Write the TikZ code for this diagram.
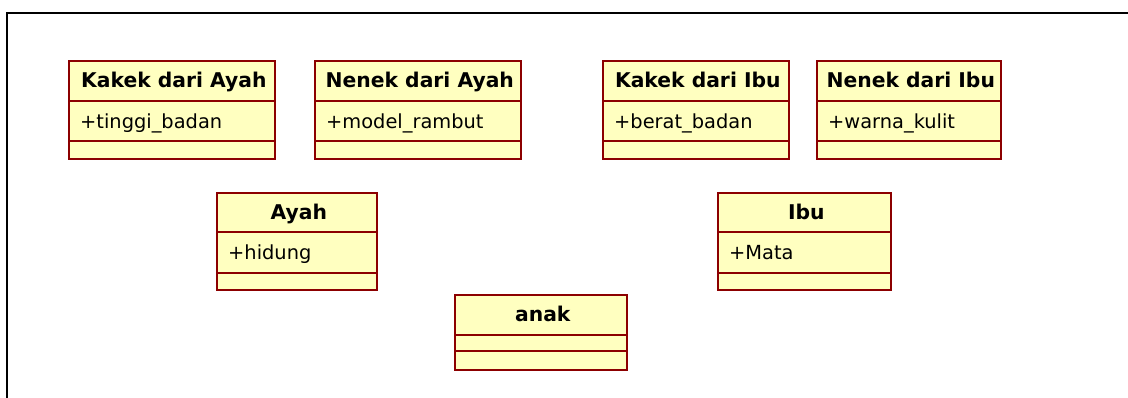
\documentclass[tikz,border=0pt]{standalone}
\usepackage{fontspec}
\setmainfont{DejaVu Sans}
\usetikzlibrary{calc}
\definecolor{clsfill}{RGB}{255,255,192}
\definecolor{clsline}{RGB}{140,0,0}
\tikzset{
  clsbox/.style={draw=clsline, fill=clsfill, line width=1.6pt, rectangle, inner sep=0pt, anchor=north west},
  clssep/.style={draw=clsline, line width=1.6pt},
  clstitle/.style={inner sep=0pt, anchor=base, font=\fontsize{20.3}{24}\selectfont\bfseries},
  clsattr/.style={inner sep=0pt, anchor=base west, font=\fontsize{19.4}{23}\selectfont},
  frameline/.style={draw=black, line width=2pt}
}
% name, x, y, width, h1, h2, h3, title, attribute
\newcommand{\umlcls}[9]{%
  \node[clsbox, minimum width=#4, minimum height=#5+#6+#7] (#1) at (#2,#3) {};
  \coordinate (#1s1) at ($(#1.north west)+(0,#5)$);
  \coordinate (#1s2) at ($(#1.north west)+(0,#5+#6)$);
  \draw[clssep] (#1s1) -- ++(#4+2,0);
  \draw[clssep] (#1s2) -- ++(#4+2,0);
  \node[clstitle] (#1t) at ($(#1.north)+(2,28)$) {#8};
  \node[clsattr] (#1a) at ($(#1s1)+(12,27.5)$) {#9};
}
\begin{document}
\begin{tikzpicture}[x=1pt,y=-1pt]
\useasboundingbox (0,0) rectangle (1128,398);
\coordinate (fbl) at (7,398);
\coordinate (ftl) at (7,13);
\coordinate (ftr) at (1128,13);
\draw[frameline] (fbl) -- (ftl) -- (ftr);
\umlcls{kayah}{68}{60}{206}{41}{40}{17}{Kakek dari Ayah}{+tinggi\_badan}
\umlcls{nayah}{314}{60}{206}{41}{40}{17}{Nenek dari Ayah}{+model\_rambut}
\umlcls{kibu}{602}{60}{186}{41}{40}{17}{Kakek dari Ibu}{+berat\_badan}
\umlcls{nibu}{816}{60}{184}{41}{40}{17}{Nenek dari Ibu}{+warna\_kulit}
\umlcls{ayah}{216}{192}{160}{40}{41}{16}{Ayah}{+hidung}
\umlcls{ibu}{717}{192}{173}{40}{41}{16}{Ibu}{+Mata}
\umlcls{anak}{454}{294}{172}{41}{16}{18}{anak}{}
\end{tikzpicture}
\end{document}
